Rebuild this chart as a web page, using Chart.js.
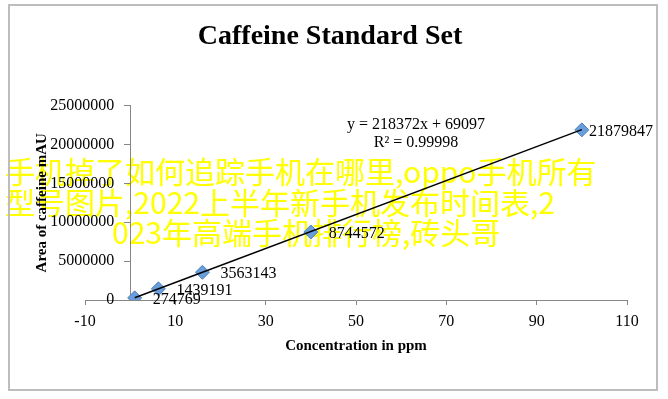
<!DOCTYPE html>
<html>
<head>
<meta charset="utf-8">
<title>Caffeine Standard Set</title>
<style>
    body {
        margin: 0;
        background-color: #fff;
    }
    .chart-container {
        position: relative;
        width: 668px;
        height: 399px;
    }
</style>
<script src="https://cdn.jsdelivr.net/npm/chart.js"></script>
</head>
<body>
<div class="chart-container">
    <canvas id="caffeineChart" width="668" height="399"></canvas>
</div>
<script>
    // standards: concentration (ppm) and peak area
    var concentrations = [1, 6.25, 16, 40, 100];
    var areas = [274769, 1439191, 3563143, 8744572, 21879847];

    // linear trend line, as printed on the chart
    var trendSlope = 218372;
    var trendIntercept = 69097;
    var trendR2 = '0.99998';

    var xTicks = [-10, 10, 30, 50, 70, 90, 110];
    var yTicks = [0, 5000000, 10000000, 15000000, 20000000, 25000000];

    // caption text pasted over the picture
    var overlayLines = [
        '手机掉了如何追踪手机在哪里,oppo手机所有',
        '型号图片,2022上半年新手机发布时间表,2',
        '023年高端手机排行榜,砖头哥'
    ];

    var serif = "'Liberation Serif', 'DejaVu Serif', serif";
    var axisGrey = '#868686';

    var pointData = concentrations.map(function (c, i) {
        return { x: c, y: areas[i] };
    });
    var trendEnds = [concentrations[0], concentrations[concentrations.length - 1]];
    var trendData = trendEnds.map(function (c) {
        return { x: c, y: trendSlope * c + trendIntercept };
    });

    // white page with grey frame, plus the yellow caption underneath the chart marks
    var framePlugin = {
        id: 'frame',
        beforeDraw: function (chart) {
            var ctx = chart.ctx;
            ctx.save();
            ctx.fillStyle = '#fff';
            ctx.fillRect(0, 0, chart.width, chart.height);

            ctx.fillStyle = '#ffff00';
            ctx.font = "30px 'Noto Sans CJK SC', sans-serif";
            ctx.textBaseline = 'middle';
            ctx.textAlign = 'left';
            ctx.fillText(overlayLines[0], 5, 172);
            ctx.fillText(overlayLines[1], 5, 203);
            ctx.fillText(overlayLines[2], 112, 233);

            ctx.strokeStyle = '#bdbdbd';
            ctx.lineWidth = 2;
            ctx.strokeRect(9, 5, 648, 385);
            ctx.restore();
        }
    };

    // value labels next to each point + trend equation
    var labelPlugin = {
        id: 'pointLabels',
        afterDatasetsDraw: function (chart) {
            var ctx = chart.ctx;
            var meta = chart.getDatasetMeta(0);
            ctx.save();
            ctx.fillStyle = '#000';
            ctx.font = '16px ' + serif;
            ctx.textBaseline = 'middle';
            ctx.textAlign = 'left';
            meta.data.forEach(function (pt, i) {
                var txt = String(areas[i]);
                var w = ctx.measureText(txt).width;
                var x = Math.min(pt.x + 18, 653 - w);
                ctx.fillText(txt, x, pt.y + 2);
            });

            ctx.textAlign = 'center';
            ctx.fillText('y = ' + trendSlope + 'x + ' + trendIntercept, 416, 125);
            ctx.fillText('R\u00B2 = ' + trendR2, 416, 143);
            ctx.restore();
        }
    };

    var caffeineChart = new Chart(
        document.getElementById('caffeineChart'),
        {
            type: 'scatter',
            data: {
                datasets: [
                    {
                        label: 'Standards',
                        data: pointData,
                        pointStyle: 'rectRot',
                        pointRadius: 7,
                        pointHoverRadius: 7,
                        backgroundColor: '#6a9ddb',
                        borderColor: '#4f81bd',
                        borderWidth: 1,
                        order: 1
                    },
                    {
                        label: 'Linear (Standards)',
                        data: trendData,
                        showLine: true,
                        borderColor: '#000',
                        borderWidth: 1.5,
                        pointRadius: 0,
                        pointHoverRadius: 0,
                        order: 0
                    }
                ]
            },
            options: {
                responsive: false,
                animation: false,
                layout: {
                    padding: { left: 33, right: 41, top: 0, bottom: 44 }
                },
                plugins: {
                    legend: { display: false },
                    tooltip: { enabled: false },
                    title: {
                        display: true,
                        text: 'Caffeine Standard Set',
                        color: '#000',
                        font: { family: serif, size: 28, weight: 'bold' },
                        padding: { top: 20, bottom: 52 }
                    }
                },
                scales: {
                    x: {
                        type: 'linear',
                        min: -10,
                        max: 110,
                        position: 'bottom',
                        afterBuildTicks: function (s) {
                            s.ticks = xTicks.map(function (v) { return { value: v }; });
                        },
                        afterFit: function (s) { s.height = 55; },
                        grid: { drawOnChartArea: false, color: axisGrey, tickLength: 5 },
                        border: { color: axisGrey, width: 1 },
                        ticks: {
                            color: '#000',
                            font: { family: serif, size: 16 },
                            padding: 7,
                            maxRotation: 0
                        },
                        title: {
                            display: true,
                            text: 'Concentration in ppm',
                            color: '#000',
                            font: { family: serif, size: 15, weight: 'bold' },
                            padding: { top: 4, bottom: 0 }
                        }
                    },
                    y: {
                        type: 'linear',
                        min: 0,
                        max: 25000000,
                        position: { x: 0 },
                        afterBuildTicks: function (s) {
                            s.ticks = yTicks.map(function (v) { return { value: v }; });
                        },
                        afterFit: function (s) { s.width = 0; },
                        grid: { drawOnChartArea: false, color: axisGrey, tickLength: 6 },
                        border: { color: axisGrey, width: 1 },
                        ticks: {
                            color: '#000',
                            font: { family: serif, size: 16 },
                            // axis sits at x = 0, labels get no padding there: pad with spaces
                            callback: function (v) { return String(v) + '    '; }
                        }
                    },
                    yTitle: {
                        type: 'linear',
                        position: 'left',
                        afterFit: function (s) { s.width = 52; },
                        grid: { display: false },
                        border: { display: false },
                        ticks: { display: false },
                        title: {
                            display: true,
                            text: 'Area of caffeine mAU',
                            color: '#000',
                            font: { family: serif, size: 15, weight: 'bold' },
                            padding: { top: 0, bottom: 0 }
                        }
                    }
                }
            },
            plugins: [framePlugin, labelPlugin]
        }
    );
</script>
</body>
</html>
